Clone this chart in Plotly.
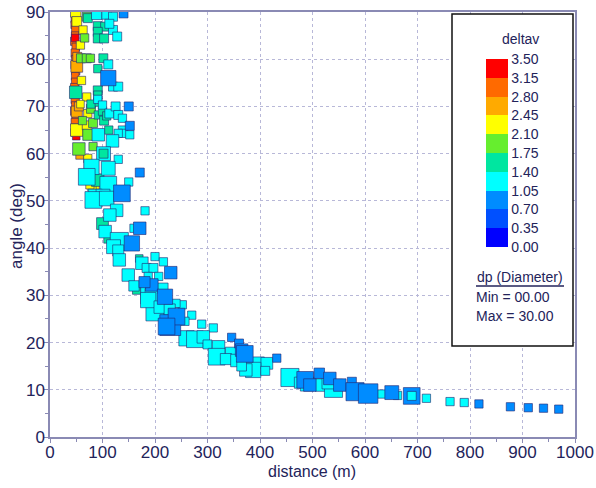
import plotly.graph_objects as go

# ---- data: (distance m, angle deg, deltav, dp) ----
distance = [
    48, 47, 49, 48, 47, 49, 48, 48, 47, 49, 48, 48, 47, 49, 48, 48, 47, 49, 48, 48, 47,
    50, 48,
    51, 51, 55, 52, 57,
    49, 51, 63, 58, 70, 51, 70, 72, 72, 73, 86, 80, 76, 60, 58,
    70, 59, 70, 77, 66, 73, 78, 82, 55, 82, 116, 132, 62,
    72, 91, 105, 91, 91, 103, 101.6, 91, 49, 91, 91, 91, 92, 100, 103, 108, 112, 91, 100, 111, 170, 165, 78,
    89, 108, 120, 120, 128, 113, 111, 120, 130, 91, 100, 113, 125, 130, 138, 138, 140, 152, 130, 92, 119, 102,
    130, 79, 111, 70, 111, 150, 86, 101, 82.5, 108, 127, 114, 181, 105, 160, 132, 121, 130, 132, 200, 175, 216,
    184, 197, 149, 187, 207, 160, 190, 197, 200, 187, 210, 252, 240, 270, 257, 289, 311, 260, 276, 292, 300, 321,
    317.5, 346, 335, 356, 375, 397, 413, 387, 373, 410, 365, 457, 476, 490, 517, 540, 530, 632, 662, 717, 762, 789,
    228, 215,
    140, 111, 150, 152, 171, 137, 171, 156, 230, 194, 180, 219, 229, 241, 222, 346, 360, 365, 371, 432, 486, 513,
    533, 552, 575, 581, 606, 651, 689, 817, 877, 911, 940, 969, 495,
    102, 689,
]
angle = [
    88.5, 87.3, 86.2, 85.0, 83.8, 82.6, 81.3, 80.0, 78.8, 77.6, 76.4, 75.2, 74.0, 72.8, 71.5, 70.2, 69.0, 67.8, 66.6, 65.5, 64.5,
    63.7, 84.5,
    78.5, 68.9, 70.0, 80.5, 59.7,
    90.0, 88.0, 86.2, 83.0, 72.0, 65.0, 66.0, 68.5, 59.0, 57.5, 52.5, 53.0, 53.4, 75.5, 70.5,
    89.0, 80.2, 80.2, 80.2, 84.5, 64.0, 69.5, 66.5, 61.0, 61.5, 52.5, 37.3, 67.0,
    88.7, 87.0, 86.9, 85.8, 84.4, 84.4, 80.2, 78.0, 73.0, 73.4, 72.4, 70.9, 68.2, 69.0, 67.0, 68.0, 65.0, 54.4, 45.2, 42.0, 37.8, 31.1, 70.5,
    89.5, 89.5, 89.0, 86.2, 84.8, 87.5, 78.9, 74.2, 74.2, 71.5, 70.3, 68.5, 70.0, 68.2, 67.5, 65.0, 64.3, 64.0, 64.3, 64.0, 62.7, 60.0,
    58.8, 57.2, 56.9, 55.1, 53.4, 54.0, 51.0, 51.0, 50.2, 50.5, 48.0, 47.0, 47.9, 43.5, 44.2, 41.4, 40.3, 39.5, 37.5, 38.2, 36.8, 37.1,
    35.8, 35.8, 34.3, 34.0, 34.0, 32.0, 30.1, 29.7, 26.5, 29.0, 27.5, 28.0, 28.3, 25.8, 24.5, 23.9, 23.1, 20.9, 20.7, 21.2, 19.6, 19.1,
    17.0, 17.7, 16.5, 16.2, 16.5, 15.7, 15.6, 14.2, 14.2, 14.0, 15.0, 12.6, 11.5, 11.2, 11.0, 10.3, 11.5, 9.1, 8.8, 8.2, 7.5, 7.3,
    27.0, 31.5,
    89.7, 76.0, 70.0, 65.9, 56.0, 51.6, 44.2, 41.0, 34.8, 32.2, 32.8, 29.7, 23.7, 25.5, 23.4, 21.1, 19.8, 18.4, 17.6, 16.7, 12.1, 13.5,
    12.4, 11.0, 11.7, 9.6, 9.2, 9.4, 8.7, 7.0, 6.4, 6.2, 6.1, 5.9, 11.0,
    60.0, 8.7,
]
deltav = (
    [2.95] * 21
    + [3.3, 3.3]
    + [2.6] * 5
    + [2.25] * 15
    + [1.9] * 13
    + [1.55] * 23
    + [1.2] * 22
    + [1.2] * 22
    + [1.2] * 22
    + [1.2] * 22
    + [1.2, 1.2]
    + [0.85] * 22
    + [0.85] * 13
    + [1.55, 1.2]
)
dp = [
    4, 3, 4, 3, 4, 3, 4, 3, 3, 4, 3, 3, 4, 3, 4, 3, 4, 3, 4, 3, 3,
    3, 3,
    9, 8, 5, 5, 4,
    7, 6, 4, 4, 4, 10, 5, 4, 4, 4, 4, 4, 4, 4, 3,
    5, 5, 5, 4, 4, 8, 5, 5, 10, 4, 4, 3, 4,
    5, 5, 5, 5, 5, 5, 5, 4, 10, 5, 4, 4, 4, 4, 5, 4, 4, 10, 9, 5, 3, 4, 4,
    7, 6, 5, 5, 5, 5, 5, 5, 5, 4, 4, 5, 5, 5, 4, 4, 4, 4, 4, 10, 10, 12,
    4, 14, 12, 16, 16, 4, 12, 12, 16, 13, 10, 10, 4, 10, 4, 18, 12, 8, 10, 4, 10, 4,
    5, 5, 10, 4, 4, 7, 18, 16, 18, 14, 10, 4, 4, 4, 4, 4, 4, 14, 16, 10, 5, 10,
    16, 10, 8, 10, 7, 9, 9, 14, 10, 5, 6, 18, 8, 12, 10, 18, 10, 4, 4, 4, 4, 4,
    8, 7,
    5, 14, 5, 5, 5, 16, 10, 14, 10, 10, 8, 14, 22, 16, 16, 4, 5, 10, 16, 4, 16, 7,
    10, 10, 5, 18, 20, 12, 16, 4, 4, 4, 4, 4, 10,
    5, 5,
]

x_ticks = [0, 100, 200, 300, 400, 500, 600, 700, 800, 900, 1000]
y_ticks = [0, 10, 20, 30, 40, 50, 60, 70, 80, 90]
cbar_ticks = [0.00, 0.35, 0.70, 1.05, 1.40, 1.75, 2.10, 2.45, 2.80, 3.15, 3.50]
bin_colors = ["#0000FF", "#0050FF", "#008CFF", "#00FFFF", "#00E6A0",
              "#66EE2E", "#FFFF00", "#FFAA00", "#FF6A00", "#FF0000"]
dp_min, dp_max = 0.0, 30.0

if not (len(distance) == len(angle) == len(deltav) == len(dp)):
    raise ValueError("length mismatch: %d %d %d %d" % (len(distance), len(angle), len(deltav), len(dp)))

# ---- styling ----
NAVY = "#23235a"
AXC = "#8a8ab4"
FONT = "Liberation Sans, Arial, sans-serif"
n = len(bin_colors)
colorscale = []
for i, c in enumerate(bin_colors):
    colorscale.append([i / n, c])
    colorscale.append([(i + 1) / n, c])

sizes_px = [5.5 + 0.7 * d for d in dp]

W, H = 596, 488
L, R, T, B = 50, 21, 12, 51
pw, ph = W - L - R, H - T - B

def px_x(p):  # window pixel -> paper x
    return (p - L) / pw

def px_y(p):  # window pixel -> paper y
    return (H - B - p) / ph

fig = go.Figure()
fig.add_trace(go.Scatter(
    x=distance, y=angle, mode="markers",
    marker=dict(
        symbol="square", size=sizes_px, color=deltav,
        colorscale=colorscale, cmin=0, cmax=3.5,
        line=dict(color="rgba(35,35,110,0.6)", width=1),
        opacity=1,
        colorbar=dict(
            thickness=22, thicknessmode="pixels",
            len=188, lenmode="pixels",
            x=px_x(486), xanchor="left", xpad=0,
            y=px_y(153), yanchor="middle", ypad=0,
            outlinewidth=0,
            tickmode="array", tickvals=cbar_ticks,
            ticktext=["%.2f" % t for t in cbar_ticks],
            ticks="",
            tickfont=dict(family=FONT, size=14, color=NAVY),
        ),
    ),
    showlegend=False, hoverinfo="x+y",
))

shapes = [
    dict(type="rect", xref="paper", yref="paper",
         x0=px_x(452), x1=px_x(573), y0=px_y(346), y1=px_y(14),
         fillcolor="white", line=dict(color="#111111", width=1.5), layer="above"),
    dict(type="line", xref="paper", yref="paper",
         x0=px_x(476), x1=px_x(564), y0=px_y(286), y1=px_y(286),
         line=dict(color=NAVY, width=1.5), layer="above"),
]
tf = dict(family=FONT, size=14, color=NAVY)
annotations = [
    dict(text="deltav", xref="paper", yref="paper", x=px_x(520), y=px_y(39),
         xanchor="center", yanchor="middle", showarrow=False, font=tf),
    dict(text="dp (Diameter)", xref="paper", yref="paper", x=px_x(520), y=px_y(277),
         xanchor="center", yanchor="middle", showarrow=False, font=tf),
    dict(text="Min = %05.2f" % dp_min, xref="paper", yref="paper", x=px_x(474), y=px_y(297),
         xanchor="left", yanchor="middle", showarrow=False, font=tf),
    dict(text="Max = %05.2f" % dp_max, xref="paper", yref="paper", x=px_x(474), y=px_y(316),
         xanchor="left", yanchor="middle", showarrow=False, font=tf),
    # axis titles
    dict(text="distance (m)", xref="paper", yref="paper", x=px_x(312), y=px_y(472),
         xanchor="center", yanchor="middle", showarrow=False,
         font=dict(family=FONT, size=16, color=NAVY)),
    dict(text="angle (deg)", xref="paper", yref="paper", x=px_x(16), y=px_y(226),
         xanchor="center", yanchor="middle", showarrow=False, textangle=-90,
         font=dict(family=FONT, size=17, color=NAVY)),
]

axis_common = dict(
    showline=True, linecolor=AXC, linewidth=1.5, mirror=True,
    showgrid=True, gridcolor="#b8b8d8", griddash="dot", gridwidth=1,
    zeroline=False, ticks="outside", ticklen=4, tickcolor=AXC,
    tickfont=dict(family=FONT, size=17, color=NAVY),
    ticklabeloverflow="allow",
    automargin=False,
)

fig.update_layout(
    width=W, height=H,
    margin=dict(l=L, r=R, t=T, b=B, autoexpand=False),
    paper_bgcolor="white", plot_bgcolor="white",
    font=dict(family=FONT, color=NAVY),
    xaxis=dict(range=[0, 1000], tickvals=x_ticks, ticklabelstandoff=-5,
               minor=dict(ticks="outside", ticklen=3, dtick=50, tickcolor=AXC, showgrid=False),
               **axis_common),
    yaxis=dict(range=[0, 90], tickvals=y_ticks, ticklabelstandoff=-4,
               minor=dict(ticks="outside", ticklen=3, dtick=5, tickcolor=AXC, showgrid=False),
               **axis_common),
    shapes=shapes, annotations=annotations,
)

# remove the browser's default 8px page margin so the figure fills the window
fig.write_html("out.html", config={"displayModeBar": False},
               post_script="document.body.style.margin='0px';")
